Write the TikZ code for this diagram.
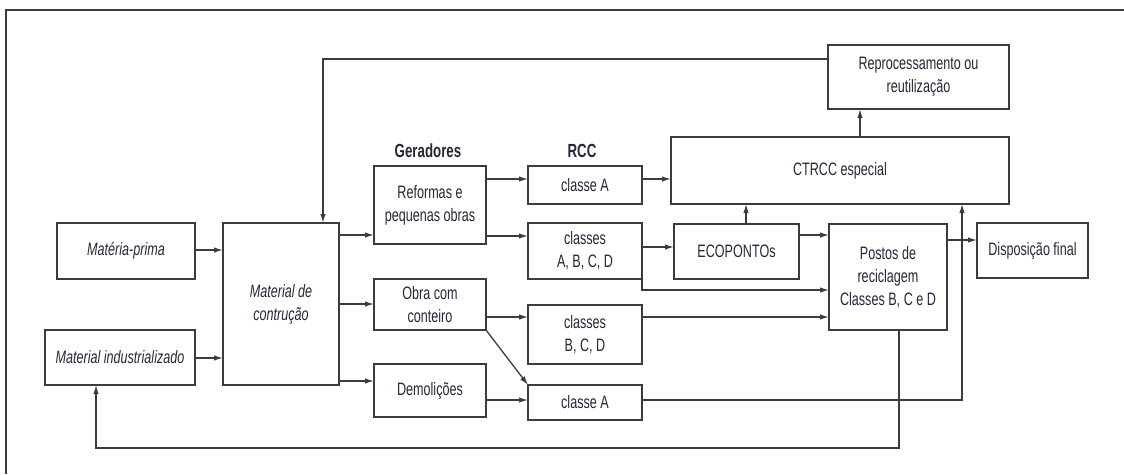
\documentclass[tikz,border=0pt]{standalone}
\usepackage{fontspec}
\setmainfont{Liberation Sans}[FakeStretch=0.7]
\usetikzlibrary{arrows.meta}
\definecolor{ln}{HTML}{3C3C3C}
\definecolor{tx}{HTML}{26263A}
\tikzset{
  box/.style={draw=ln, line width=1.3pt, rectangle, inner sep=0pt, outer sep=0pt, align=center, text=tx,
    font=\fontsize{18}{23}\selectfont},
  slbox/.style={box, font=\fontsize{18}{23}\selectfont\itshape},
  arr/.style={draw=ln, line width=1.3pt, -{Latex[length=9pt,width=5.5pt]}},
  ln/.style={draw=ln, line width=1.3pt},
  hdr/.style={text=tx, font=\fontsize{19}{20}\selectfont\bfseries, inner sep=0pt}
}
\begin{document}
\begin{tikzpicture}[x=1pt,y=-1pt]
\useasboundingbox (0,0) rectangle (1124,474);
% frame
\draw[ln] (6,474) -- (6,10) -- (1124,10);
% boxes
\node[slbox, minimum width=138pt, minimum height=56pt] (mp) at (126,251) {Matéria-prima};
\node[slbox, minimum width=116pt, minimum height=162pt] (mat) at (281,304) {Material de\\contrução};
\node[slbox, minimum width=150pt, minimum height=55pt] (mi) at (120,357.5) {Material industrializado};
\node[box, minimum width=112pt, minimum height=78pt] (ref) at (430,205) {Reformas e\\pequenas obras};
\node[box, minimum width=112pt, minimum height=51pt] (obra) at (430,304.5) {Obra com\\conteiro};
\node[box, minimum width=112pt, minimum height=53pt] (dem) at (430,390.5) {Demolições};
\node[box, minimum width=114pt, minimum height=38pt] (ca) at (585,185) {classe A};
\node[box, minimum width=114pt, minimum height=56pt] (cabcd) at (585,251) {classes\\A, B, C, D};
\node[box, minimum width=114pt, minimum height=59pt] (cbcd) at (585,334.5) {classes\\B, C, D};
\node[box, minimum width=114pt, minimum height=35pt] (ca2) at (585,402.5) {classe A};
\node[box, minimum width=338pt, minimum height=67pt] (ctrcc) at (840,170.5) {CTRCC especial};
\node[box, minimum width=181pt, minimum height=64pt] (rep) at (918.5,77) {Reprocessamento ou\\reutilização};
\node[box, minimum width=125pt, minimum height=55pt] (eco) at (736.5,251.5) {ECOPONTOs};
\node[box, minimum width=118pt, minimum height=106pt] (pos) at (888,277) {Postos de\\reciclagem\\Classes B, C e D};
\node[box, minimum width=111pt, minimum height=55pt] (disp) at (1032.5,250.5) {Disposição final};
% headers
\node[hdr] (ger) at (428,151) {Geradores};
\node[hdr] (rcc) at (582,151) {RCC};
% connectors
\draw[arr] (mp.east |- 0,250) -- (mat.west |- 0,250);
\draw[arr] (mi.east |- 0,358) -- (mat.west |- 0,358);
\draw[arr] (mat.east |- 0,235) -- (ref.west |- 0,235);
\draw[arr] (mat.east |- 0,304) -- (obra.west |- 0,304);
\draw[arr] (mat.east |- 0,381) -- (dem.west |- 0,381);
\draw[arr] (ref.east |- 0,179) -- (ca.west |- 0,179);
\draw[arr] (ref.east |- 0,236) -- (cabcd.west |- 0,236);
\draw[arr] (obra.east |- 0,317) -- (cbcd.west |- 0,317);
\draw[arr] (obra.south east) -- (ca2.north west);
\draw[arr] (dem.east |- 0,400) -- (ca2.west |- 0,400);
\draw[arr] (ca.east |- 0,179) -- (ctrcc.west |- 0,179);
\draw[arr] (cabcd.east |- 0,247) -- (eco.west |- 0,247);
\draw[arr] (cabcd.south east) -- (642,290) -- (pos.west |- 0,290);
\draw[arr] (cbcd.east |- 0,317) -- (pos.west |- 0,317);
\draw[arr] (ca2.east |- 0,400) -- (962,400) -- (ctrcc.south -| 962,0);
\draw[arr] (eco.north -| 746,0) -- (ctrcc.south -| 746,0);
\draw[arr] (eco.east |- 0,235) -- (pos.west |- 0,235);
\draw[arr] (pos.east |- 0,240) -- (disp.west |- 0,240);
\draw[arr] (pos.south -| 899,0) -- (899,448) -- (96,448) -- (mi.south -| 96,0);
\draw[arr] (rep.west |- 0,59) -- (323,59) -- (mat.north -| 323,0);
\draw[arr] (ctrcc.north -| 860,0) -- (rep.south -| 860,0);
\end{tikzpicture}
\end{document}
